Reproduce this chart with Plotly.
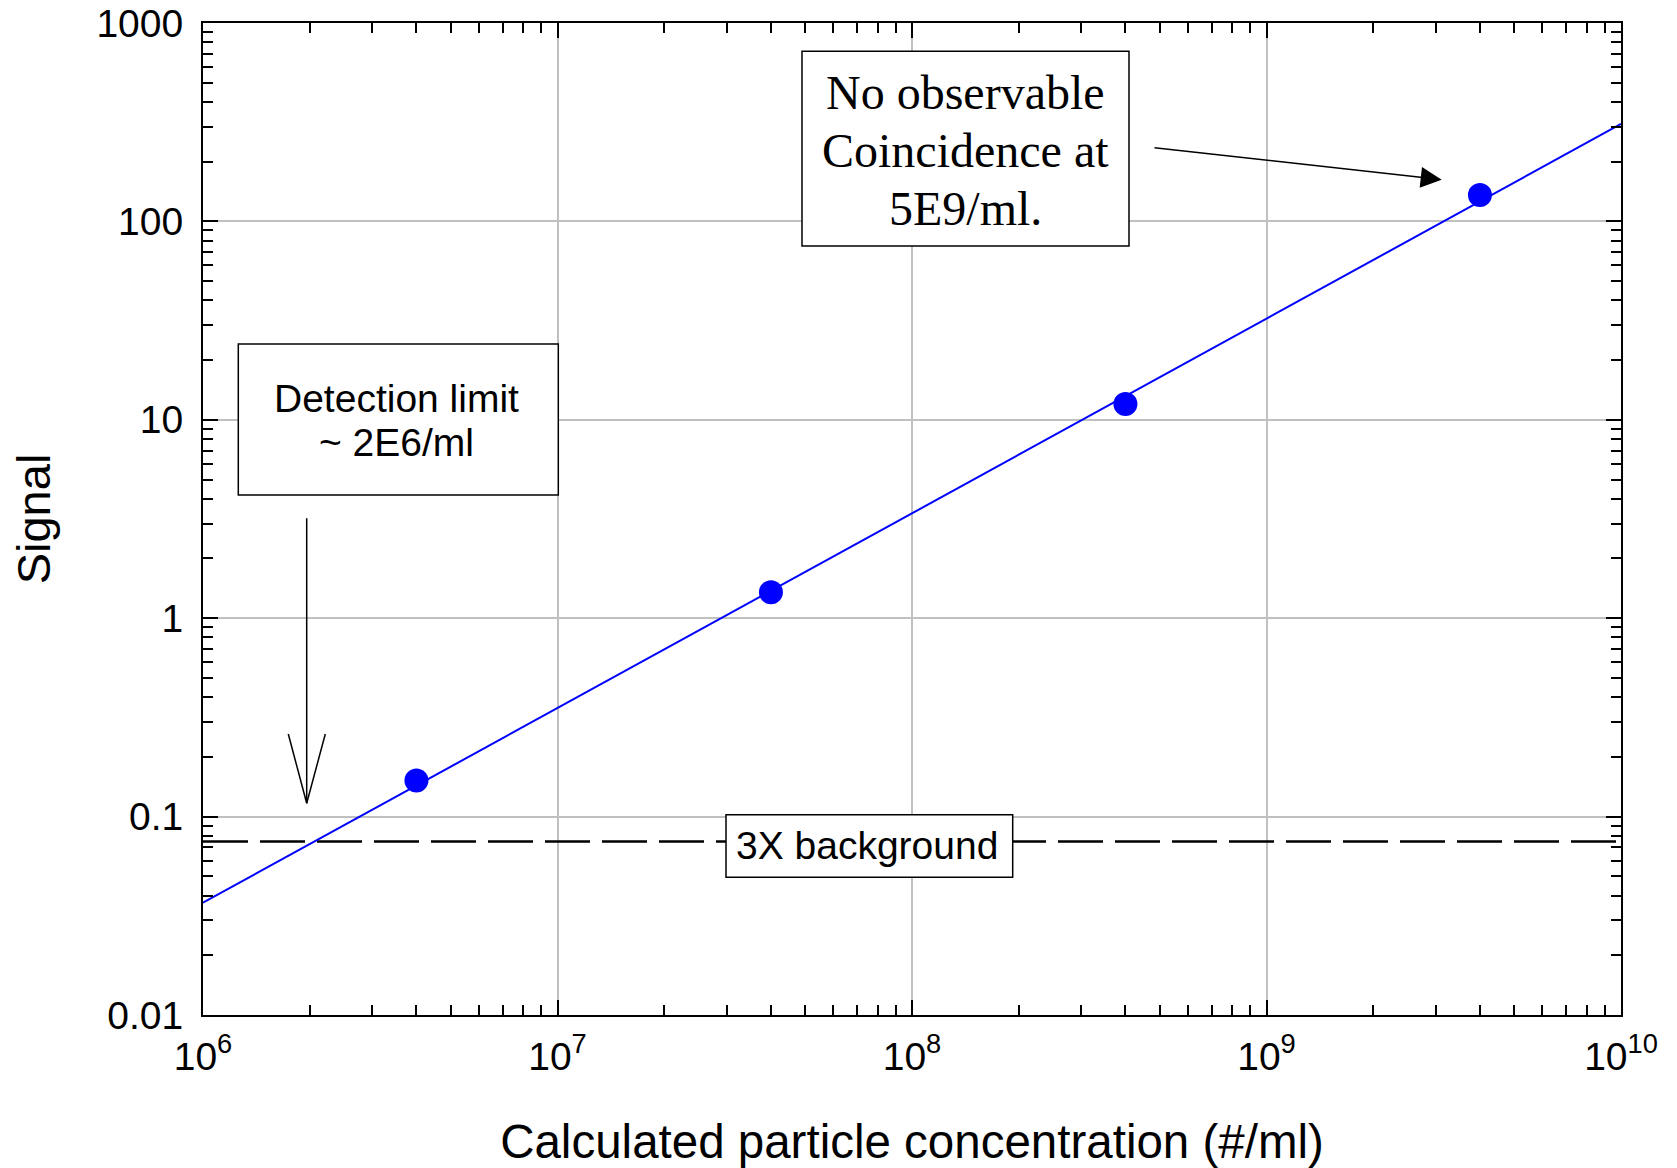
import plotly.graph_objects as go

# ---- data ----
conc = [4e6, 4e7, 4e8, 4e9]            # calculated particle concentration (#/ml)
signal = [0.152, 1.35, 12.0, 136.0]     # measured signal
fit_x = [1e6, 1e10]                     # fitted line end points
fit_y = [0.0368, 310.0]
bg_x = [1e6, 1e10]
bg_level = [0.075, 0.075]               # 3X background

x_tickvals = [1e6, 1e7, 1e8, 1e9, 1e10]
x_ticktext = ["10<sup>6</sup>", "10<sup>7</sup>", "10<sup>8</sup>", "10<sup>9</sup>", "10<sup>10</sup>"]
y_tickvals = [0.01, 0.1, 1, 10, 100, 1000]
y_ticktext = ["0.01", "0.1", "1", "10", "100", "1000"]

x_title = "Calculated particle concentration (#/ml)"
y_title = "Signal"
note_top = ["No observable", "Coincidence at", "5E9/ml."]
note_left = ["Detection limit", "~ 2E6/ml"]
note_bg = "3X background"

SANS = "Liberation Sans, Arial, sans-serif"
SERIF = "Liberation Serif, Times New Roman, serif"

fig = go.Figure()
fig.add_trace(go.Scatter(x=bg_x, y=bg_level, mode="lines",
                         line=dict(color="black", width=2.5, dash="45px,12px"),
                         hoverinfo="skip"))
fig.add_trace(go.Scatter(x=fit_x, y=fit_y, mode="lines",
                         line=dict(color="#0000ff", width=2)))
fig.add_trace(go.Scatter(x=conc, y=signal, mode="markers",
                         marker=dict(color="#0000ff", size=24)))

axis_common = dict(
    type="log", showline=True, linecolor="black", linewidth=2, mirror="ticks",
    ticks="inside", ticklen=15, tickwidth=2, tickcolor="black",
    showgrid=True, gridcolor="#c0c0c0", gridwidth=2, zeroline=False,
    tickfont=dict(family=SANS, size=39, color="black"),
    minor=dict(ticks="inside", ticklen=10, tickwidth=1.5, tickcolor="black",
               dtick="D1", showgrid=False),
)

fig.update_layout(
    width=1677, height=1168,
    margin=dict(l=203, r=56, t=23, b=153),
    paper_bgcolor="white", plot_bgcolor="white",
    showlegend=False, template="none",
    font=dict(family=SANS, color="black"),
    xaxis=dict(axis_common, range=[6, 10], tickmode="array",
               tickvals=x_tickvals, ticktext=x_ticktext, ticklabelstandoff=6,
               title=dict(text=x_title, font=dict(size=47.5, family=SANS), standoff=52)),
    yaxis=dict(axis_common, range=[-2, 3], tickmode="array",
               tickvals=y_tickvals, ticktext=y_ticktext, ticklabelstandoff=10,
               title=dict(text=y_title, font=dict(size=47, family=SANS), standoff=31)),
)

L, T, W, H = 203, 23, 1418, 992
def px(x):
    return (x - L) / W
def py(y):
    return (T + H - y) / H

# boxes (white filled, black border)
for (x0, y0, x1, y1) in [(802, 51.3, 1129, 246), (238.3, 344, 558.3, 495), (726, 814.7, 1012.7, 877.3)]:
    fig.add_shape(type="rect", xref="paper", yref="paper",
                  x0=px(x0), x1=px(x1), y0=py(y1), y1=py(y0),
                  line=dict(color="black", width=1.5), fillcolor="white", layer="above")

# texts
for txt, yy in zip(note_top, [92.5, 150, 208]):
    fig.add_annotation(text=txt, xref="paper", yref="paper", x=px(965.8), y=py(yy),
                       xanchor="center", yanchor="middle", showarrow=False,
                       font=dict(family=SERIF, size=48, color="black"))
for txt, yy in zip(note_left, [398, 442]):
    fig.add_annotation(text=txt, xref="paper", yref="paper", x=px(396), y=py(yy),
                       xanchor="center", yanchor="middle", showarrow=False,
                       font=dict(family=SANS, size=39, color="black"))
fig.add_annotation(text=note_bg, xref="paper", yref="paper", x=px(866.8), y=py(845),
                   xanchor="center", yanchor="middle", showarrow=False,
                   font=dict(family=SANS, size=39, color="black"))

# arrow to the 4E9 point
fig.add_annotation(text="", xref="paper", yref="paper", x=px(1441.7), y=py(179.7),
                   ax=1153 - 1441.7, ay=147.6 - 179.7, showarrow=True,
                   arrowhead=2, arrowsize=2.8, arrowwidth=1.5, arrowcolor="black", standoff=0)

# open arrow at detection limit
for (x0, y0, x1, y1) in [(306.7, 518.3, 306.7, 803.3), (288.3, 734, 306.7, 803.3), (325.3, 734, 306.7, 803.3)]:
    fig.add_shape(type="line", xref="paper", yref="paper",
                  x0=px(x0), y0=py(y0), x1=px(x1), y1=py(y1),
                  line=dict(color="black", width=1.5), layer="above")

fig.write_html("out.html")
